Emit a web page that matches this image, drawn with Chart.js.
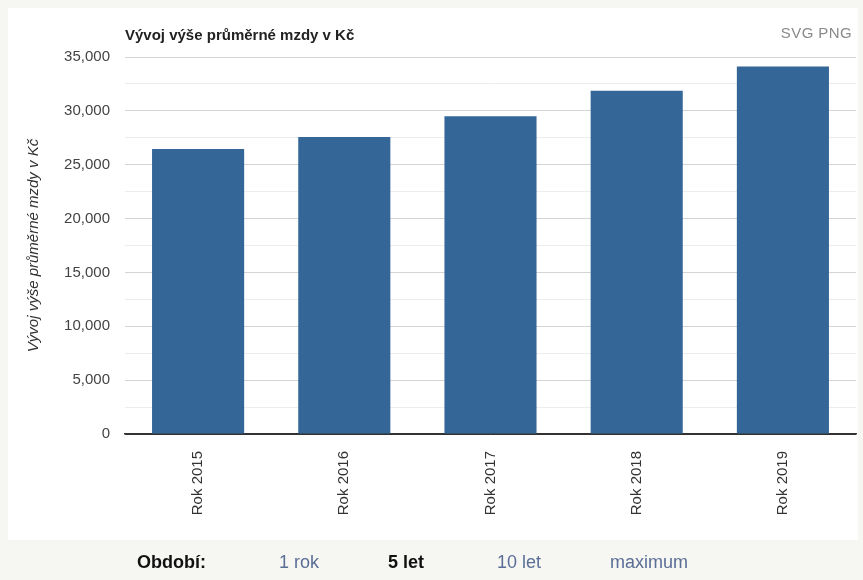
<!DOCTYPE html>
<html lang="cs">
<head>
<meta charset="utf-8">
<title>Vývoj výše průměrné mzdy v Kč</title>
<script src="https://cdn.jsdelivr.net/npm/chart.js@4/dist/chart.umd.min.js"></script>
<style>
  html, body { margin: 0; padding: 0; }
  body {
    width: 863px; height: 580px; overflow: hidden;
    background: #f6f6f2;
    font-family: Arial, "Liberation Sans", sans-serif;
    position: relative;
  }
  #panel {
    position: absolute; left: 8px; top: 8px; width: 850px; height: 532px;
    background: #ffffff;
  }
  #wrap { position: absolute; left: 0; top: 0; width: 863px; height: 580px; }
  #title {
    position: absolute; left: 125px; top: 27px;
    font-size: 15px; line-height: 15px; font-weight: bold; color: #222;
    white-space: nowrap;
  }
  #export {
    position: absolute; right: 11px; top: 25px;
    font-size: 15px; line-height: 15px; color: #8a8a8a; letter-spacing: 0.4px;
    white-space: nowrap;
  }
  .period {
    position: absolute; top: 553px; font-size: 18px; line-height: 18px;
    white-space: nowrap; color: #5a6e96;
  }
  .period.bold { font-weight: bold; color: #111; }
</style>
</head>
<body>
<div id="panel"></div>
<div id="wrap"><canvas id="chart"></canvas></div>
<div id="title">Vývoj výše průměrné mzdy v Kč</div>
<div id="export">SVG PNG</div>
<div class="period bold" style="left:137px">Období:</div>
<div class="period" style="left:279px">1 rok</div>
<div class="period bold" style="left:388px">5 let</div>
<div class="period" style="left:497px">10 let</div>
<div class="period" style="left:610px">maximum</div>

<script>
// Average monthly wage by year (CZK)
const years = ['Rok 2015', 'Rok 2016', 'Rok 2017', 'Rok 2018', 'Rok 2019'];
const wages = [26467, 27575, 29504, 31868, 34125];

// Value axis range and label step
const axisMin = 0;
const axisMax = 35000;
const gridStep = 2500;
const labelStep = 5000;

const axisTitle = 'Vývoj výše průměrné mzdy v Kč';
const numberFmt = new Intl.NumberFormat('en-US');

new Chart(document.getElementById('chart'), {
  type: 'bar',
  data: {
    labels: years,
    datasets: [{
      label: axisTitle,
      data: wages,
      backgroundColor: '#346698',
      borderWidth: 0,
      categoryPercentage: 1.0,
      barPercentage: 0.63
    }]
  },
  options: {
    responsive: true,
    maintainAspectRatio: false,
    animation: false,
    devicePixelRatio: 1,
    layout: { padding: { left: 21, top: 57, right: 7, bottom: 0 } },
    plugins: {
      legend: { display: false },
      tooltip: { enabled: false },
      title: { display: false }
    },
    scales: {
      y: {
        min: axisMin,
        max: axisMax,
        border: { display: false },
        grid: {
          drawTicks: false,
          lineWidth: 1,
          color: (ctx) => {
            const v = ctx.tick ? ctx.tick.value : 0;
            if (v === 0) return '#333333';
            return v % labelStep === 0 ? '#d4d4d4' : '#ececec';
          }
        },
        ticks: {
          stepSize: gridStep,
          autoSkip: false,
          padding: 15,
          color: '#444444',
          font: { family: 'Arial, "Liberation Sans", sans-serif', size: 15 },
          callback: (v) => (v % labelStep === 0 ? numberFmt.format(v) : '')
        },
        title: {
          display: true,
          text: axisTitle,
          color: '#333333',
          padding: { top: 4, bottom: 0 },
          font: { family: 'Arial, "Liberation Sans", sans-serif', size: 15, style: 'italic' }
        },
        afterFit: (scale) => { scale.width = 104; }
      },
      x: {
        offset: true,
        border: { display: true, color: '#333333', width: 1.5 },
        grid: { display: false, drawTicks: false },
        ticks: {
          minRotation: 90,
          maxRotation: 90,
          autoSkip: false,
          padding: 17,
          color: '#333333',
          font: { family: 'Arial, "Liberation Sans", sans-serif', size: 15 }
        },
        afterFit: (scale) => { scale.height = 146; }
      }
    }
  }
});
</script>
</body>
</html>
